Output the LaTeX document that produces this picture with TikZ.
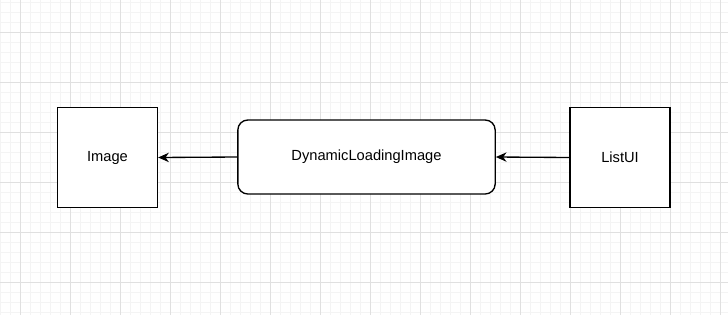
\documentclass[tikz,border=0pt]{standalone}
\usepackage{fontspec}
\setmainfont{Liberation Sans}
\usetikzlibrary{positioning,arrows.meta}
\definecolor{gridminor}{RGB}{244,244,244}
\definecolor{gridmajor}{RGB}{224,224,224}

\begin{document}
\begin{tikzpicture}[x=0.75pt,y=-0.75pt,
    box/.style={draw,line width=1pt,minimum width=75pt,minimum height=75pt,inner sep=0pt,font=\fontsize{11}{13}\selectfont},
    roundbox/.style={draw,line width=1pt,rounded corners=7.5pt,minimum width=193pt,minimum height=55.5pt,inner sep=0pt,font=\fontsize{11}{13}\selectfont},
    link/.style={line width=1pt,-{Stealth[length=8pt,width=7pt,inset=2.5pt]}}]
    \fill[white] (0,0) rectangle (728,315);
    \useasboundingbox (0,0) rectangle (728,315);
    % grid
    \foreach \gx in {0.7,10.7,...,728} \draw[gridminor,line width=0.75pt] (\gx,0) -- (\gx,315);
    \foreach \gy in {2.3,12.3,...,315} \draw[gridminor,line width=0.75pt] (0,\gy) -- (728,\gy);
    \foreach \gx in {20.7,70.7,...,728} \draw[gridmajor,line width=0.75pt] (\gx,0) -- (\gx,315);
    \foreach \gy in {32.3,82.3,...,315} \draw[gridmajor,line width=0.75pt] (0,\gy) -- (728,\gy);
    % boxes
    \node[box,fill=white] (image) at (107.5,157.5) {Image};
    \node[roundbox,fill=white] (dynimg) at (366.5,157) {DynamicLoadingImage};
    \node[box,fill=white] (listui) at (620,157.5) {ListUI};
    \draw[link] (dynimg.west) -- (image.east);
    \draw[link] (listui.west) -- (dynimg.east);
  \end{tikzpicture}
\end{document}
